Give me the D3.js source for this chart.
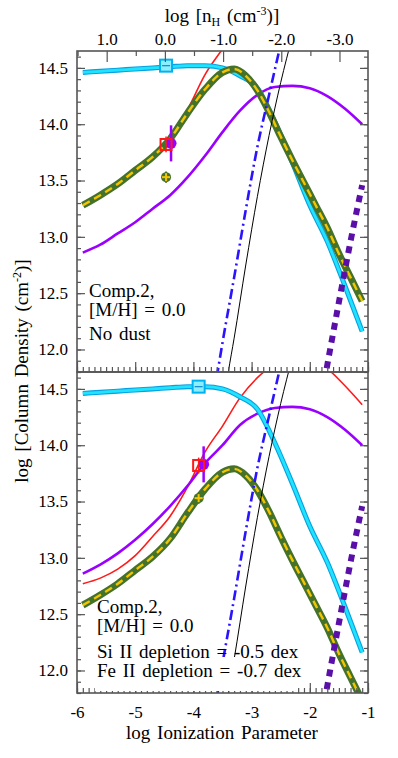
<!DOCTYPE html>
<html lang="en">
<head>
<meta charset="utf-8">
<title>Comp.2 column densities vs ionization parameter</title>
<script src="https://d3js.org/d3.v7.min.js"></script>
<style>
	body { margin: 0; background: #fff; }
	text { font-family: "Liberation Serif", "Times New Roman", serif; font-size: 17px; fill: #000; }
	.note, .title { font-size: 19px; word-spacing: 2px; }
</style>
</head>
<body>
<script>
	// ---- values (log U on x, log N on y) ----
	var uGrid = [-5.9, -5.6, -5.3, -5.0, -4.7, -4.4, -4.1, -3.8, -3.5, -3.2, -2.9, -2.6, -2.3, -2.0, -1.7, -1.4, -1.1];

	var cyanN      = [14.46, 14.47, 14.48, 14.49, 14.50, 14.51, 14.52, 14.52, 14.50, 14.43, 14.32, 14.02, 13.66, 13.28, 12.96, 12.57, 12.16];
	var purpleTopN = [12.86, 12.93, 13.03, 13.13, 13.25, 13.37, 13.53, 13.72, 13.93, 14.12, 14.26, 14.33, 14.34, 14.32, 14.25, 14.14, 14.00];
	var purpleBotN = [12.86, 12.94, 13.04, 13.16, 13.30, 13.46, 13.64, 13.84, 14.00, 14.18, 14.28, 14.33, 14.34, 14.32, 14.25, 14.14, 14.00];
	var redTopN    = [13.28, 13.37, 13.47, 13.59, 13.71, 13.87, 14.13, 14.44, 14.67, 14.92, 15.10, 15.22, 15.28, 15.27, 15.18, 15.03, 14.86];
	var redBotN    = [12.77, 12.82, 12.90, 13.02, 13.19, 13.37, 13.63, 13.94, 14.17, 14.42, 14.60, 14.72, 14.78, 14.77, 14.68, 14.53, 14.36];

	var greenU    = [-5.9, -5.6, -5.3, -5.0, -4.7, -4.4, -4.1, -3.8, -3.5, -3.3, -3.1, -2.9, -2.7, -2.5, -2.3, -2.1, -1.9, -1.7, -1.5, -1.3, -1.1];
	var greenTopN = [13.28, 13.37, 13.47, 13.59, 13.71, 13.87, 14.10, 14.31, 14.46, 14.49, 14.43, 14.30, 14.11, 13.89, 13.68, 13.48, 13.28, 13.08, 12.85, 12.64, 12.43];
	var greenBotN = [12.58, 12.67, 12.77, 12.89, 13.01, 13.17, 13.40, 13.61, 13.76, 13.79, 13.73, 13.60, 13.41, 13.19, 12.98, 12.78, 12.58, 12.38, 12.15, 11.94, 11.73];

	var blueU  = [-3.6, -3.5, -3.3, -3.1, -2.9, -2.7, -2.5];
	var blueN  = [11.75, 12.06, 12.64, 13.24, 13.80, 14.26, 14.71];
	var blackU = [-3.5, -3.4, -3.3, -3.1, -2.9, -2.7, -2.5, -2.3];
	var blackN = [11.45, 11.80, 12.10, 12.75, 13.36, 13.90, 14.37, 14.78];
	var dotU   = [-1.75, -1.5, -1.3, -1.1];
	var dotN   = [11.72, 12.42, 12.96, 13.46];

	// observed column densities, placed at each panel's solution log U
	var solU     = [-4.47, -3.91];
	var obsCyan  = 14.52, errCyan = 0.02;
	var obsRed   = 13.82, errRed = 0.07;
	var obsPurp  = 13.83, errPurp = 0.16;
	var obsGreen = 13.53, errGreen = 0.05;

	var xTicks = [-6, -5, -4, -3, -2, -1];
	var yTicks = [12.0, 12.5, 13.0, 13.5, 14.0, 14.5];
	var nHTicks = [1, 0, -1, -2, -3];
	var topNotes = ["Comp.2,", "[M/H] = 0.0", "No dust"];
	var botNotes = ["Comp.2,", "[M/H] = 0.0", "Si II depletion = -0.5 dex", "Fe II depletion = -0.7 dex"];

	// ---- layout ----
	var w = 398, h = 758;
	var left = 77, right = 368;
	var yDomain = [11.8, 14.65];

	var svg = d3.select("body").append("svg").attr("width", w).attr("height", h);

	var x = d3.scaleLinear().domain([-6, -1]).range([left, right]);
	// log nH = -4.49 - log U
	var xn = d3.scaleLinear().domain([-4.49 + 6, -4.49 + 1]).range([left, right]);

	var panels = [
		{ top: 51, bottom: 372, cyan: cyanN, purple: purpleTopN, red: redTopN, green: greenTopN },
		{ top: 372, bottom: 693, cyan: cyanN, purple: purpleBotN, red: redBotN, green: greenBotN }
	];

	function pairs(us, ns) { return us.map(function(u, i) { return [u, ns[i]]; }); }

	function styleTicks(g) {
		g.select(".domain").remove();
		g.selectAll("line").attr("stroke", "#555").attr("stroke-width", 1.2);
		g.selectAll("text").attr("font-size", 17).attr("font-family", "'Liberation Serif', 'Times New Roman', serif").attr("fill", "#000");
	}

	var minorY = d3.range(118, 147).map(function(v) { return v / 10; });
	var minorX = d3.range(-60, -9).map(function(v) { return v / 10; });

	panels.forEach(function(p, pi) {
		var y = d3.scaleLinear().domain(yDomain).range([p.bottom, p.top]);
		var line = d3.line().x(function(d) { return x(d[0]); }).y(function(d) { return y(d[1]); }).curve(d3.curveMonotoneX);

		var clipId = "clip" + pi;
		svg.append("clipPath").attr("id", clipId).append("rect")
			.attr("x", left).attr("y", p.top).attr("width", right - left).attr("height", p.bottom - p.top);
		var g = svg.append("g").attr("clip-path", "url(#" + clipId + ")");

		// red (Si II) under everything
		g.append("path").attr("d", line(pairs(uGrid, p.red)))
			.attr("fill", "none").attr("stroke", "#ff1a1a").attr("stroke-width", 1.6);
		// purple solid
		g.append("path").attr("d", line(pairs(uGrid, p.purple)))
			.attr("fill", "none").attr("stroke", "#9a00ff").attr("stroke-width", 2.6);
		// cyan double line
		g.append("path").attr("d", line(pairs(uGrid, p.cyan)))
			.attr("fill", "none").attr("stroke", "#0a9fe0").attr("stroke-width", 5);
		g.append("path").attr("d", line(pairs(uGrid, p.cyan)))
			.attr("fill", "none").attr("stroke", "#1fe4ff").attr("stroke-width", 2.8);
		// green with yellow dashes (Fe II)
		g.append("path").attr("d", line(pairs(greenU, p.green)))
			.attr("fill", "none").attr("stroke", "#44722a").attr("stroke-width", 7);
		g.append("path").attr("d", line(pairs(greenU, p.green)))
			.attr("fill", "none").attr("stroke", "#f5c400").attr("stroke-width", 2.4)
			.attr("stroke-dasharray", "8,5");
		// blue dash-dot
		g.append("path").attr("d", line(pairs(blueU, blueN)))
			.attr("fill", "none").attr("stroke", "#2a14ff").attr("stroke-width", 2.6)
			.attr("stroke-dasharray", "10,4,2,4");
		// thin black
		g.append("path").attr("d", line(pairs(blackU, blackN)))
			.attr("fill", "none").attr("stroke", "#000").attr("stroke-width", 1);
		// thick purple dotted
		g.append("path").attr("d", line(pairs(dotU, dotN)))
			.attr("fill", "none").attr("stroke", "#5a0fa8").attr("stroke-width", 6)
			.attr("stroke-dasharray", "7,6");

		// observations
		var cx = x(solU[pi]);
		var m = svg.append("g");
		// purple circle + bar
		m.append("line").attr("x1", cx + 5).attr("x2", cx + 5)
			.attr("y1", y(obsPurp - errPurp)).attr("y2", y(obsPurp + errPurp))
			.attr("stroke", "#9a00ff").attr("stroke-width", 2.5);
		m.append("circle").attr("cx", cx + 5).attr("cy", y(obsPurp)).attr("r", 5.5).attr("fill", "#9a00ff");
		// red square + bar
		m.append("line").attr("x1", cx).attr("x2", cx)
			.attr("y1", y(obsRed - errRed)).attr("y2", y(obsRed + errRed))
			.attr("stroke", "#ff1a1a").attr("stroke-width", 1.5);
		m.append("rect").attr("x", cx - 5.5).attr("y", y(obsRed) - 5.5).attr("width", 11).attr("height", 11)
			.attr("fill", "none").attr("stroke", "#ff1a1a").attr("stroke-width", 2);
		// green circle with yellow plus
		m.append("line").attr("x1", cx).attr("x2", cx)
			.attr("y1", y(obsGreen - errGreen)).attr("y2", y(obsGreen + errGreen))
			.attr("stroke", "#44722a").attr("stroke-width", 2);
		m.append("circle").attr("cx", cx).attr("cy", y(obsGreen)).attr("r", 5).attr("fill", "#44722a");
		m.append("line").attr("x1", cx - 4).attr("x2", cx + 4).attr("y1", y(obsGreen)).attr("y2", y(obsGreen))
			.attr("stroke", "#f5c400").attr("stroke-width", 2);
		m.append("line").attr("x1", cx).attr("x2", cx).attr("y1", y(obsGreen) - 4).attr("y2", y(obsGreen) + 4)
			.attr("stroke", "#f5c400").attr("stroke-width", 2);
		// cyan square with plus
		m.append("rect").attr("x", cx - 6).attr("y", y(obsCyan) - 6).attr("width", 12).attr("height", 12)
			.attr("fill", "#8cefff").attr("stroke", "#00b2f0").attr("stroke-width", 2);
		m.append("line").attr("x1", cx - 4).attr("x2", cx + 4).attr("y1", y(obsCyan)).attr("y2", y(obsCyan))
			.attr("stroke", "#1a8fd0").attr("stroke-width", 1.3);
		m.append("line").attr("x1", cx).attr("x2", cx).attr("y1", y(obsCyan - errCyan) - 2).attr("y2", y(obsCyan + errCyan) + 2)
			.attr("stroke", "#1a8fd0").attr("stroke-width", 1.3);

		// left axis
		svg.append("g").attr("transform", "translate(" + left + ",0)")
			.call(d3.axisLeft(y).tickValues(minorY).tickSize(-4).tickFormat("")).call(styleTicks);
		svg.append("g").attr("transform", "translate(" + left + ",0)")
			.call(d3.axisLeft(y).tickValues(yTicks).tickSize(-8).tickPadding(9)
				.tickFormat(function(d) { return d.toFixed(1); }))
			.call(styleTicks);
		// right axis
		svg.append("g").attr("transform", "translate(" + right + ",0)")
			.call(d3.axisRight(y).tickValues(minorY).tickSize(-4).tickFormat("")).call(styleTicks);
		svg.append("g").attr("transform", "translate(" + right + ",0)")
			.call(d3.axisRight(y).tickValues(yTicks).tickSize(-8).tickFormat("")).call(styleTicks);
		// bottom ticks (pointing up)
		svg.append("g").attr("transform", "translate(0," + p.bottom + ")")
			.call(d3.axisBottom(x).tickValues(minorX).tickSize(-5).tickFormat("")).call(styleTicks);
		svg.append("g").attr("transform", "translate(0," + p.bottom + ")")
			.call(d3.axisBottom(x).tickValues(xTicks).tickSize(-10).tickPadding(13)
				.tickFormat(function(d) { return pi === 1 ? String(d) : ""; }))
			.call(styleTicks);

		// frame
		svg.append("rect").attr("x", left).attr("y", p.top).attr("width", right - left).attr("height", p.bottom - p.top)
			.attr("fill", "none").attr("stroke", "#555").attr("stroke-width", 1.6);
	});

	// top density axis
	svg.append("g").attr("transform", "translate(0,51)")
		.call(d3.axisTop(xn).tickValues([1.5, 0.5, -0.5, -1.5, -2.5]).tickSize(-5).tickFormat("")).call(styleTicks);
	svg.append("g").attr("transform", "translate(0,51)")
		.call(d3.axisTop(xn).tickValues(nHTicks).tickSize(-11).tickPadding(6)
			.tickFormat(function(d) { return d.toFixed(1); }))
		.call(styleTicks);

	// annotations
	var topY = [297, 316, 340];
	topNotes.forEach(function(t, i) {
		svg.append("text").attr("class", "note").attr("x", 89).attr("y", topY[i]).text(t);
	});
	// white box behind the depletion lines (hides the curves there)
	svg.append("rect").attr("x", 95).attr("y", 657).attr("width", 202).attr("height", 34).attr("fill", "#fff");
	var botY = [613, 632, 658, 677];
	botNotes.forEach(function(t, i) {
		svg.append("text").attr("class", "note").attr("x", 97).attr("y", botY[i]).text(t);
	});

	// axis titles
	var tt = svg.append("text").attr("class", "title").attr("x", 222).attr("y", 22).attr("text-anchor", "middle");
	tt.append("tspan").text("log [n");
	tt.append("tspan").attr("dy", 4).attr("font-size", 12).text("H");
	tt.append("tspan").attr("dy", -4).text(" (cm");
	tt.append("tspan").attr("dy", -7).attr("font-size", 12).text("-3");
	tt.append("tspan").attr("dy", 7).text(")]");

	svg.append("text").attr("class", "title").attr("x", 222).attr("y", 739).attr("text-anchor", "middle").text("log Ionization Parameter");

	var yt = svg.append("text").attr("class", "title").attr("text-anchor", "middle")
		.attr("transform", "translate(28,371) rotate(-90)");
	yt.append("tspan").text("log [Column Density (cm");
	yt.append("tspan").attr("baseline-shift", "super").attr("font-size", 12).text("-2");
	yt.append("tspan").text(")]");
</script>
</body>
</html>
